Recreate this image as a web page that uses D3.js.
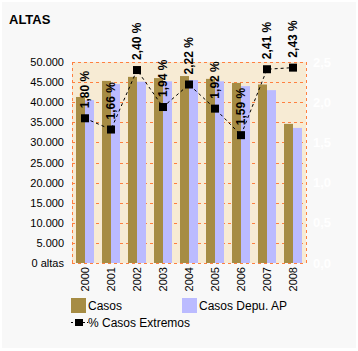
<!DOCTYPE html>
<html>
<head>
<meta charset="utf-8">
<script src="https://cdn.jsdelivr.net/npm/d3@7"></script>
<style>
  html, body { margin: 0; padding: 0; background: #fff; }
  svg { display: block; font-family: "Liberation Sans", Arial, sans-serif; }
</style>
</head>
<body>
<svg id="chart"></svg>
<script>
const years     = ['2000', '2001', '2002', '2003', '2004', '2005', '2006', '2007', '2008'];
const casos     = [41300, 45300, 46300, 46000, 46500, 45800, 44800, 44400, 34600];
const casosDepu = [40500, 44500, 45100, 45200, 45500, 45200, 44000, 43000, 33600];
const pctExt    = [1.80, 1.66, 2.40, 1.94, 2.22, 1.92, 1.59, 2.41, 2.43];
const leftTicks  = [0, 5000, 10000, 15000, 20000, 25000, 30000, 35000, 40000, 45000, 50000];
const rightTicks = [0, 0.5, 1.0, 1.5, 2.0, 2.5];

const totalW = 358, totalH = 351;
const mg = { top: 62, left: 72, right: 306, bottom: 263 };

const svg = d3.select('#chart').attr('width', totalW).attr('height', totalH);

// outer panel
svg.append('rect').attr('x', 2).attr('y', 2).attr('width', 354).attr('height', 346)
  .attr('fill', '#f8f8f8');

svg.append('text').attr('x', 9).attr('y', 24).attr('font-size', 13).attr('font-weight', 'bold')
  .text('ALTAS');

const x = d3.scaleBand().domain(years).range([mg.left, mg.right]);
const xIn = d3.scaleBand().domain(['casos', 'depu']).range([4, 22]);
const y = d3.scaleLinear().domain([0, 50000]).range([mg.bottom, mg.top]);
const y2 = d3.scaleLinear().domain([0, 2.5]).range([mg.bottom, mg.top]);

// plot background
svg.append('rect').attr('x', mg.left).attr('y', mg.top)
  .attr('width', mg.right - mg.left).attr('height', mg.bottom - mg.top)
  .attr('fill', '#f7ebd4');

// grid
const grid = svg.append('g').attr('stroke', '#ff8040').attr('stroke-width', 1)
  .attr('stroke-dasharray', '3,3').attr('shape-rendering', 'crispEdges');
leftTicks.forEach((t) =>
  grid.append('line').attr('x1', mg.left).attr('x2', mg.right)
    .attr('y1', Math.round(y(t)) + 0.5).attr('y2', Math.round(y(t)) + 0.5));
[mg.left, mg.right].forEach((xx) =>
  grid.append('line').attr('x1', xx + 0.5).attr('x2', xx + 0.5)
    .attr('y1', mg.top).attr('y2', mg.bottom));

// bars
const bars = svg.append('g');
bars.selectAll('.casos').data(years).enter().append('rect')
  .attr('x', (d) => x(d) + xIn('casos')).attr('width', xIn.bandwidth())
  .attr('y', (d, i) => y(casos[i])).attr('height', (d, i) => y(0) - y(casos[i]))
  .attr('fill', '#a68c44');
bars.selectAll('.depu').data(years).enter().append('rect')
  .attr('x', (d) => x(d) + xIn('depu')).attr('width', xIn.bandwidth())
  .attr('y', (d, i) => y(casosDepu[i])).attr('height', (d, i) => y(0) - y(casosDepu[i]))
  .attr('fill', '#bbbbff');

// axes
const fmt = (v) => v === 0 ? '0 altas' : d3.format(',')(v).replace(/,/g, '.');
const ax = svg.append('g').attr('transform', `translate(${mg.left},0)`)
  .call(d3.axisLeft(y).tickValues(leftTicks).tickFormat(fmt).tickSize(0).tickPadding(8));
ax.select('.domain').remove();
ax.selectAll('text').attr('font-size', 11).attr('fill', '#000').attr('font-family', null);

const ax2 = svg.append('g').attr('transform', `translate(${mg.right},0)`)
  .call(d3.axisRight(y2).tickValues(rightTicks).tickFormat((v) => d3.format('.1f')(v).replace('.', ','))
    .tickSize(0).tickPadding(7));
ax2.select('.domain').remove();
ax2.selectAll('text').attr('font-size', 13).attr('font-weight', 'bold').attr('fill', '#fff')
  .attr('font-family', null);

const axb = svg.append('g').attr('transform', `translate(0,${mg.bottom})`)
  .call(d3.axisBottom(x).tickSize(0));
axb.select('.domain').remove();
axb.selectAll('text').attr('font-size', 11).attr('fill', '#000').attr('font-family', null)
  .attr('transform', 'rotate(-90)').attr('x', -4).attr('y', 0).attr('dy', '0.35em')
  .attr('text-anchor', 'end');

// line
const cx = (d) => x(d) + x.bandwidth() / 2;
const line = d3.line().x((d) => cx(d)).y((d, i) => y2(pctExt[i]));
svg.append('path').datum(years).attr('d', line).attr('fill', 'none')
  .attr('stroke', '#000').attr('stroke-width', 1).attr('stroke-dasharray', '3,3');
svg.selectAll('.mk').data(years).enter().append('rect')
  .attr('x', (d) => cx(d) - 4).attr('y', (d, i) => y2(pctExt[i]) - 4)
  .attr('width', 8).attr('height', 8).attr('fill', '#000');
svg.selectAll('.lbl').data(years).enter().append('text')
  .attr('transform', (d, i) => `translate(${cx(d)},${y2(pctExt[i]) - 10}) rotate(-90)`)
  .attr('dy', '0.35em').attr('font-size', 12).attr('font-weight', 'bold')
  .text((d, i) => d3.format('.2f')(pctExt[i]).replace('.', ',') + ' %');

// legend
const lg = svg.append('g').attr('font-size', 12);
lg.append('rect').attr('x', 71).attr('y', 298).attr('width', 15).attr('height', 15).attr('fill', '#a68c44');
lg.append('text').attr('x', 88).attr('y', 310).text('Casos');
lg.append('rect').attr('x', 182).attr('y', 298).attr('width', 15).attr('height', 15).attr('fill', '#bbbbff');
lg.append('text').attr('x', 199).attr('y', 310).text('Casos Depu. AP');
lg.append('line').attr('x1', 71).attr('x2', 88).attr('y1', 322.5).attr('y2', 322.5)
  .attr('stroke', '#000').attr('stroke-dasharray', '2,2');
lg.append('rect').attr('x', 75).attr('y', 319).attr('width', 8).attr('height', 7).attr('fill', '#000');
lg.append('text').attr('x', 88).attr('y', 327).text('% Casos Extremos');
</script>
</body>
</html>
